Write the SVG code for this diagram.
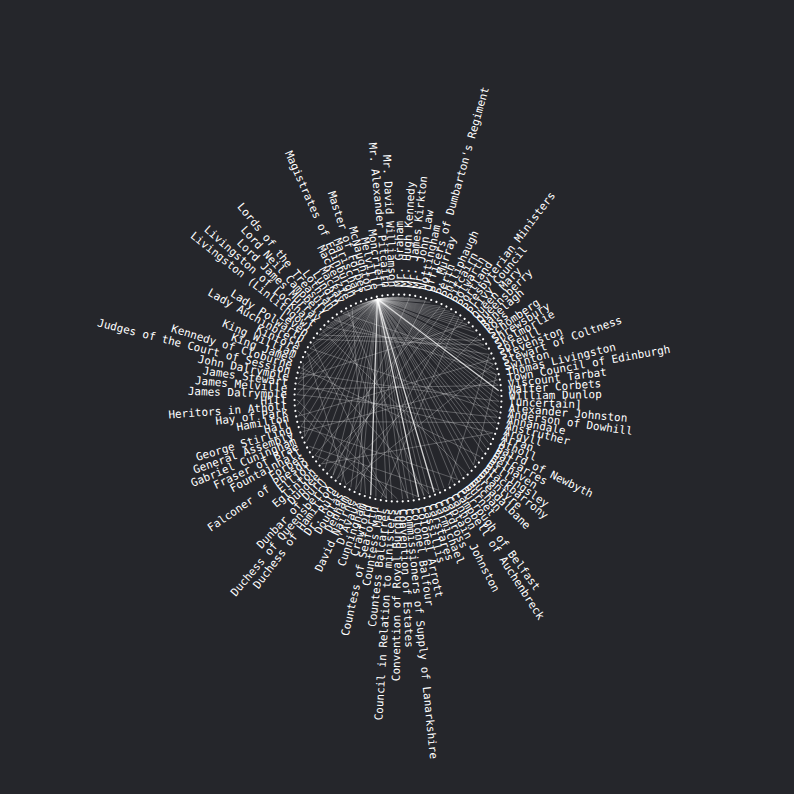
<svg xmlns="http://www.w3.org/2000/svg" width="794" height="794" viewBox="0 0 794 794">
<style>
text{font-family:"DejaVu Sans Mono","Liberation Mono",monospace;font-size:11px;fill:#ffffff}
.f text{text-anchor:end}
circle{fill:#ffffff}
#links line{stroke:#ffffff;stroke-opacity:.32;stroke-width:.8}
#links line.b{stroke-opacity:.8;stroke-width:1.3}
</style>
<rect width="794" height="794" fill="#25262b"/>
<g id="links">
<line x1="377.4" y1="299.1" x2="404.1" y2="297.2"/>
<line x1="377.4" y1="299.1" x2="409.5" y2="297.7"/>
<line x1="377.4" y1="299.1" x2="414.8" y2="298.4"/>
<line x1="377.4" y1="299.1" x2="420.1" y2="299.4"/>
<line x1="377.4" y1="299.1" x2="425.3" y2="300.8"/>
<line x1="377.4" y1="299.1" x2="430.4" y2="302.3"/>
<line x1="377.4" y1="299.1" x2="440.4" y2="306.3"/>
<line x1="377.4" y1="299.1" x2="445.2" y2="308.7"/>
<line x1="377.4" y1="299.1" x2="449.9" y2="311.4"/>
<line x1="377.4" y1="299.1" x2="454.5" y2="314.3"/>
<line x1="377.4" y1="299.1" x2="458.8" y2="317.4"/>
<line x1="377.4" y1="299.1" x2="463.0" y2="320.7"/>
<line x1="377.4" y1="299.1" x2="467.1" y2="324.3"/>
<line x1="377.4" y1="299.1" x2="470.9" y2="328.1"/>
<line x1="377.4" y1="299.1" x2="474.5" y2="332.1"/>
<line x1="377.4" y1="299.1" x2="481.1" y2="340.6"/>
<line x1="377.4" y1="299.1" x2="484.0" y2="345.1"/>
<line x1="377.4" y1="299.1" x2="486.7" y2="349.7"/>
<line x1="377.4" y1="299.1" x2="491.3" y2="359.4"/>
<line x1="377.4" y1="299.1" x2="493.3" y2="364.4"/>
<line x1="377.4" y1="299.1" x2="494.9" y2="369.6"/>
<line x1="377.4" y1="299.1" x2="496.3" y2="374.7"/>
<line x1="377.4" y1="299.1" x2="497.4" y2="380.0"/>
<line x1="377.4" y1="299.1" x2="498.2" y2="385.3"/>
<line class="b" x1="377.4" y1="299.1" x2="498.7" y2="390.7"/>
<line x1="377.4" y1="299.1" x2="499.0" y2="396.1"/>
<line x1="377.4" y1="299.1" x2="498.9" y2="401.4"/>
<line x1="377.4" y1="299.1" x2="498.6" y2="406.8"/>
<line x1="377.4" y1="299.1" x2="498.0" y2="412.1"/>
<line x1="377.4" y1="299.1" x2="497.1" y2="417.4"/>
<line x1="377.4" y1="299.1" x2="495.9" y2="422.7"/>
<line x1="377.4" y1="299.1" x2="494.5" y2="427.9"/>
<line x1="377.4" y1="299.1" x2="490.8" y2="437.9"/>
<line x1="377.4" y1="299.1" x2="488.5" y2="442.8"/>
<line x1="377.4" y1="299.1" x2="486.0" y2="447.6"/>
<line x1="377.4" y1="299.1" x2="483.2" y2="452.2"/>
<line x1="377.4" y1="299.1" x2="477.0" y2="461.0"/>
<line x1="377.4" y1="299.1" x2="473.5" y2="465.1"/>
<line x1="377.4" y1="299.1" x2="469.8" y2="469.0"/>
<line x1="377.4" y1="299.1" x2="461.9" y2="476.2"/>
<line x1="377.4" y1="299.1" x2="457.6" y2="479.5"/>
<line x1="377.4" y1="299.1" x2="453.2" y2="482.6"/>
<line x1="377.4" y1="299.1" x2="443.9" y2="488.0"/>
<line x1="377.4" y1="299.1" x2="439.0" y2="490.3"/>
<line class="b" x1="377.4" y1="299.1" x2="434.1" y2="492.3"/>
<line x1="377.4" y1="299.1" x2="429.0" y2="494.1"/>
<line x1="377.4" y1="299.1" x2="423.9" y2="495.6"/>
<line class="b" x1="377.4" y1="299.1" x2="418.6" y2="496.9"/>
<line x1="377.4" y1="299.1" x2="413.3" y2="497.8"/>
<line x1="377.4" y1="299.1" x2="408.0" y2="498.5"/>
<line x1="377.4" y1="299.1" x2="402.6" y2="498.9"/>
<line x1="377.4" y1="299.1" x2="391.9" y2="498.8"/>
<line x1="377.4" y1="299.1" x2="386.5" y2="498.3"/>
<line x1="377.4" y1="299.1" x2="375.9" y2="496.6"/>
<line class="b" x1="377.4" y1="299.1" x2="370.7" y2="495.2"/>
<line x1="377.4" y1="299.1" x2="360.5" y2="491.8"/>
<line x1="377.4" y1="299.1" x2="355.6" y2="489.7"/>
<line x1="377.4" y1="299.1" x2="350.8" y2="487.3"/>
<line x1="377.4" y1="299.1" x2="341.5" y2="481.7"/>
<line x1="377.4" y1="299.1" x2="333.0" y2="475.3"/>
<line x1="377.4" y1="299.1" x2="325.1" y2="467.9"/>
<line x1="377.4" y1="299.1" x2="318.1" y2="459.8"/>
<line x1="377.4" y1="299.1" x2="312.0" y2="450.9"/>
<line x1="377.4" y1="299.1" x2="306.8" y2="441.5"/>
<line x1="377.4" y1="299.1" x2="304.7" y2="436.6"/>
<line x1="377.4" y1="299.1" x2="301.1" y2="426.4"/>
<line x1="377.4" y1="299.1" x2="298.6" y2="416.0"/>
<line x1="377.4" y1="299.1" x2="297.3" y2="405.3"/>
<line x1="377.4" y1="299.1" x2="297.1" y2="394.6"/>
<line x1="377.4" y1="299.1" x2="298.0" y2="383.9"/>
<line x1="377.4" y1="299.1" x2="298.9" y2="378.6"/>
<line x1="377.4" y1="299.1" x2="300.1" y2="373.3"/>
<line x1="377.4" y1="299.1" x2="301.5" y2="368.1"/>
<line x1="377.4" y1="299.1" x2="305.2" y2="358.1"/>
<line x1="377.4" y1="299.1" x2="310.0" y2="348.4"/>
<line x1="377.4" y1="299.1" x2="312.8" y2="343.8"/>
<line x1="377.4" y1="299.1" x2="319.0" y2="335.0"/>
<line x1="377.4" y1="299.1" x2="322.5" y2="330.9"/>
<line x1="377.4" y1="299.1" x2="326.2" y2="327.0"/>
<line x1="377.4" y1="299.1" x2="330.0" y2="323.3"/>
<line x1="377.4" y1="299.1" x2="334.1" y2="319.8"/>
<line x1="377.4" y1="299.1" x2="342.8" y2="313.4"/>
<line x1="377.4" y1="299.1" x2="352.1" y2="308.0"/>
<line x1="377.4" y1="299.1" x2="357.0" y2="305.7"/>
<line x1="377.4" y1="299.1" x2="361.9" y2="303.7"/>
<line x1="377.4" y1="299.1" x2="367.0" y2="301.9"/>
<line x1="377.4" y1="299.1" x2="372.1" y2="300.4"/>
<line x1="377.4" y1="299.1" x2="382.7" y2="298.2"/>
<line x1="377.4" y1="299.1" x2="388.0" y2="297.5"/>
<line x1="377.4" y1="299.1" x2="393.4" y2="297.1"/>
<line x1="377.4" y1="299.1" x2="398.7" y2="297.0"/>
<line x1="326.2" y1="327.0" x2="489.2" y2="354.5"/>
<line x1="334.1" y1="319.8" x2="496.3" y2="374.7"/>
<line x1="319.0" y1="335.0" x2="481.1" y2="340.6"/>
<line x1="342.8" y1="313.4" x2="493.3" y2="364.4"/>
<line x1="297.1" y1="394.6" x2="497.1" y2="417.4"/>
<line x1="298.0" y1="383.9" x2="492.8" y2="433.0"/>
<line x1="300.1" y1="373.3" x2="498.9" y2="401.4"/>
<line x1="309.3" y1="446.3" x2="439.0" y2="490.3"/>
<line x1="301.1" y1="426.4" x2="457.6" y2="479.5"/>
<line x1="314.9" y1="455.4" x2="418.6" y2="496.9"/>
<line x1="337.2" y1="478.6" x2="477.9" y2="336.2"/>
<line x1="346.1" y1="484.6" x2="493.3" y2="364.4"/>
<line x1="321.5" y1="463.9" x2="463.0" y2="320.7"/>
<line x1="312.8" y1="343.8" x2="386.5" y2="498.3"/>
<line x1="338.4" y1="316.5" x2="408.0" y2="498.5"/>
<line x1="352.1" y1="308.0" x2="365.6" y2="493.7"/>
<line x1="307.5" y1="353.2" x2="346.1" y2="484.6"/>
<line x1="425.3" y1="300.8" x2="337.2" y2="478.6"/>
<line x1="440.4" y1="306.3" x2="314.9" y2="455.4"/>
<line x1="454.5" y1="314.3" x2="355.6" y2="489.7"/>
<line x1="297.8" y1="410.7" x2="386.5" y2="498.3"/>
<line x1="297.0" y1="399.9" x2="397.3" y2="499.0"/>
<line x1="489.2" y1="354.5" x2="448.6" y2="485.4"/>
<line x1="496.3" y1="374.7" x2="473.5" y2="465.1"/>
<line x1="304.7" y1="436.6" x2="303.2" y2="363.0"/>
<line x1="307.5" y1="353.2" x2="429.0" y2="494.1"/>
<line x1="492.8" y1="433.0" x2="321.5" y2="463.9"/>
<line x1="495.9" y1="422.7" x2="299.7" y2="421.3"/>
<line x1="498.2" y1="385.3" x2="297.4" y2="389.2"/>
<line x1="467.1" y1="324.3" x2="298.9" y2="378.6"/>
<line x1="484.0" y1="345.1" x2="315.8" y2="339.3"/>
<line x1="445.2" y1="308.7" x2="328.9" y2="471.7"/>
<line x1="322.5" y1="330.9" x2="466.0" y2="472.7"/>
<line x1="301.5" y1="368.1" x2="480.2" y2="456.7"/>
<line x1="347.4" y1="310.6" x2="423.9" y2="495.6"/>
<line x1="458.8" y1="317.4" x2="381.2" y2="497.6"/>
<line x1="409.5" y1="297.7" x2="333.0" y2="475.3"/>
<line x1="497.4" y1="380.0" x2="302.7" y2="431.6"/>
<line x1="491.3" y1="359.4" x2="298.6" y2="416.0"/>
<line x1="310.0" y1="348.4" x2="498.0" y2="412.1"/>
</g>
<g id="nodes" transform="translate(398,398)">
<g id="n0" transform="rotate(5)"><circle cx="103.5" r="1.1"/><text x="111" dy=".35em">Alexander Johnston</text></g>
<g id="n1" transform="rotate(8.05)"><circle cx="103.5" r="1.1"/><text x="111" dy=".35em">Anderson of Dowhill</text></g>
<g id="n2" transform="rotate(11.1)"><circle cx="103.5" r="1.1"/><text x="111" dy=".35em">Annandale</text></g>
<g id="n3" transform="rotate(14.15)"><circle cx="103.5" r="1.1"/><text x="111" dy=".35em">Anstruther</text></g>
<g id="n4" transform="rotate(17.2)"><circle cx="103.5" r="1.1"/><text x="111" dy=".35em">Argyll</text></g>
<g id="n5" transform="rotate(20.25)"><circle cx="103.5" r="1.1"/><text x="111" dy=".35em">Arran</text></g>
<g id="n6" transform="rotate(23.31)"><circle cx="103.5" r="1.1"/><text x="111" dy=".35em">Atholl</text></g>
<g id="n7" transform="rotate(26.36)"><circle cx="103.5" r="1.1"/><text x="111" dy=".35em">Baird of Newbyth</text></g>
<g id="n8" transform="rotate(29.41)"><circle cx="103.5" r="1.1"/><text x="111" dy=".35em">Balcarres</text></g>
<g id="n9" transform="rotate(32.46)"><circle cx="103.5" r="1.1"/><text x="111" dy=".35em">Belhaven</text></g>
<g id="n10" transform="rotate(35.51)"><circle cx="103.5" r="1.1"/><text x="111" dy=".35em">Billingsley</text></g>
<g id="n11" transform="rotate(38.56)"><circle cx="103.5" r="1.1"/><text x="111" dy=".35em">Blackbarrony</text></g>
<g id="n12" transform="rotate(41.61)"><circle cx="103.5" r="1.1"/><text x="111" dy=".35em">Blantyre</text></g>
<g id="n13" transform="rotate(44.66)"><circle cx="103.5" r="1.1"/><text x="111" dy=".35em">Breadalbane</text></g>
<g id="n14" transform="rotate(47.71)"><circle cx="103.5" r="1.1"/><text x="111" dy=".35em">Buchan</text></g>
<g id="n15" transform="rotate(50.76)"><circle cx="103.5" r="1.1"/><text x="111" dy=".35em">Burnet</text></g>
<g id="n16" transform="rotate(53.81)"><circle cx="103.5" r="1.1"/><text x="111" dy=".35em">Burrough of Belfast</text></g>
<g id="n17" transform="rotate(56.86)"><circle cx="103.5" r="1.1"/><text x="111" dy=".35em">Campbell of Auchenbreck</text></g>
<g id="n18" transform="rotate(59.92)"><circle cx="103.5" r="1.1"/><text x="111" dy=".35em">Cannon</text></g>
<g id="n19" transform="rotate(62.97)"><circle cx="103.5" r="1.1"/><text x="111" dy=".35em">Captain Johnston</text></g>
<g id="n20" transform="rotate(66.02)"><circle cx="103.5" r="1.1"/><text x="111" dy=".35em">Cardross</text></g>
<g id="n21" transform="rotate(69.07)"><circle cx="103.5" r="1.1"/><text x="111" dy=".35em">Carmichael</text></g>
<g id="n22" transform="rotate(72.12)"><circle cx="103.5" r="1.1"/><text x="111" dy=".35em">Carstares</text></g>
<g id="n23" transform="rotate(75.17)"><circle cx="103.5" r="1.1"/><text x="111" dy=".35em">Cassillis</text></g>
<g id="n24" transform="rotate(78.22)"><circle cx="103.5" r="1.1"/><text x="111" dy=".35em">Colonel Arrott</text></g>
<g id="n25" transform="rotate(81.27)"><circle cx="103.5" r="1.1"/><text x="111" dy=".35em">Colonel Balfour</text></g>
<g id="n26" transform="rotate(84.32)"><circle cx="103.5" r="1.1"/><text x="111" dy=".35em">Commissioners of Supply of Lanarkshire</text></g>
<g id="n27" transform="rotate(87.37)"><circle cx="103.5" r="1.1"/><text x="111" dy=".35em">Convention of Estates</text></g>
<g class="f">
<g id="n28" transform="rotate(90.42)"><circle cx="103.5" r="1.1"/><text transform="rotate(180)" x="-111" dy=".35em">Convention of Royal Burghs</text></g>
<g id="n29" transform="rotate(93.47)"><circle cx="103.5" r="1.1"/><text transform="rotate(180)" x="-111" dy=".35em">Council in Relation to ministers</text></g>
<g id="n30" transform="rotate(96.53)"><circle cx="103.5" r="1.1"/><text transform="rotate(180)" x="-111" dy=".35em">Countess Balcarres</text></g>
<g id="n31" transform="rotate(99.58)"><circle cx="103.5" r="1.1"/><text transform="rotate(180)" x="-111" dy=".35em">Countess Mar</text></g>
<g id="n32" transform="rotate(102.63)"><circle cx="103.5" r="1.1"/><text transform="rotate(180)" x="-111" dy=".35em">Countess of Seaforth</text></g>
<g id="n33" transform="rotate(105.68)"><circle cx="103.5" r="1.1"/><text transform="rotate(180)" x="-111" dy=".35em">Crawford</text></g>
<g id="n34" transform="rotate(108.73)"><circle cx="103.5" r="1.1"/><text transform="rotate(180)" x="-111" dy=".35em">Cunningham</text></g>
<g id="n35" transform="rotate(111.78)"><circle cx="103.5" r="1.1"/><text transform="rotate(180)" x="-111" dy=".35em">D'Avaux</text></g>
<g id="n36" transform="rotate(114.83)"><circle cx="103.5" r="1.1"/><text transform="rotate(180)" x="-111" dy=".35em">David Nairne</text></g>
<g id="n37" transform="rotate(117.88)"><circle cx="103.5" r="1.1"/><text transform="rotate(180)" x="-111" dy=".35em">Denham</text></g>
<g id="n38" transform="rotate(120.93)"><circle cx="103.5" r="1.1"/><text transform="rotate(180)" x="-111" dy=".35em">Douglas</text></g>
<g id="n39" transform="rotate(123.98)"><circle cx="103.5" r="1.1"/><text transform="rotate(180)" x="-111" dy=".35em">Dr. Rule</text></g>
<g id="n40" transform="rotate(127.03)"><circle cx="103.5" r="1.1"/><text transform="rotate(180)" x="-111" dy=".35em">Duchess of Hamilton</text></g>
<g id="n41" transform="rotate(130.08)"><circle cx="103.5" r="1.1"/><text transform="rotate(180)" x="-111" dy=".35em">Duchess of Queensberry</text></g>
<g id="n42" transform="rotate(133.14)"><circle cx="103.5" r="1.1"/><text transform="rotate(180)" x="-111" dy=".35em">Dunbar of Durn</text></g>
<g id="n43" transform="rotate(136.19)"><circle cx="103.5" r="1.1"/><text transform="rotate(180)" x="-111" dy=".35em">Dundee</text></g>
<g id="n44" transform="rotate(139.24)"><circle cx="103.5" r="1.1"/><text transform="rotate(180)" x="-111" dy=".35em">Eglinton</text></g>
<g id="n45" transform="rotate(142.29)"><circle cx="103.5" r="1.1"/><text transform="rotate(180)" x="-111" dy=".35em">Elliot</text></g>
<g id="n46" transform="rotate(145.34)"><circle cx="103.5" r="1.1"/><text transform="rotate(180)" x="-111" dy=".35em">Falconer of Phesdo</text></g>
<g id="n47" transform="rotate(148.39)"><circle cx="103.5" r="1.1"/><text transform="rotate(180)" x="-111" dy=".35em">Forbes</text></g>
<g id="n48" transform="rotate(151.44)"><circle cx="103.5" r="1.1"/><text transform="rotate(180)" x="-111" dy=".35em">Fountainhall</text></g>
<g id="n49" transform="rotate(154.49)"><circle cx="103.5" r="1.1"/><text transform="rotate(180)" x="-111" dy=".35em">Fraser of Brae</text></g>
<g id="n50" transform="rotate(157.54)"><circle cx="103.5" r="1.1"/><text transform="rotate(180)" x="-111" dy=".35em">Gabriel Cuningham</text></g>
<g id="n51" transform="rotate(160.59)"><circle cx="103.5" r="1.1"/><text transform="rotate(180)" x="-111" dy=".35em">General Assembly</text></g>
<g id="n52" transform="rotate(163.64)"><circle cx="103.5" r="1.1"/><text transform="rotate(180)" x="-111" dy=".35em">George Stirling</text></g>
<g id="n53" transform="rotate(166.69)"><circle cx="103.5" r="1.1"/><text transform="rotate(180)" x="-111" dy=".35em">Hall</text></g>
<g id="n54" transform="rotate(169.75)"><circle cx="103.5" r="1.1"/><text transform="rotate(180)" x="-111" dy=".35em">Hamilton</text></g>
<g id="n55" transform="rotate(172.8)"><circle cx="103.5" r="1.1"/><text transform="rotate(180)" x="-111" dy=".35em">Hay of Park</text></g>
<g id="n56" transform="rotate(175.85)"><circle cx="103.5" r="1.1"/><text transform="rotate(180)" x="-111" dy=".35em">Heritors in Atholl</text></g>
<g id="n57" transform="rotate(178.9)"><circle cx="103.5" r="1.1"/><text transform="rotate(180)" x="-111" dy=".35em">Hill</text></g>
<g id="n58" transform="rotate(181.95)"><circle cx="103.5" r="1.1"/><text transform="rotate(180)" x="-111" dy=".35em">James Dalrymple</text></g>
<g id="n59" transform="rotate(185)"><circle cx="103.5" r="1.1"/><text transform="rotate(180)" x="-111" dy=".35em">James Melville</text></g>
<g id="n60" transform="rotate(188.05)"><circle cx="103.5" r="1.1"/><text transform="rotate(180)" x="-111" dy=".35em">James Stewart</text></g>
<g id="n61" transform="rotate(191.1)"><circle cx="103.5" r="1.1"/><text transform="rotate(180)" x="-111" dy=".35em">John Dalrymple</text></g>
<g id="n62" transform="rotate(194.15)"><circle cx="103.5" r="1.1"/><text transform="rotate(180)" x="-111" dy=".35em">Judges of the Court of Session</text></g>
<g id="n63" transform="rotate(197.2)"><circle cx="103.5" r="1.1"/><text transform="rotate(180)" x="-111" dy=".35em">Kennedy of Cloburne</text></g>
<g id="n64" transform="rotate(200.25)"><circle cx="103.5" r="1.1"/><text transform="rotate(180)" x="-111" dy=".35em">King James</text></g>
<g id="n65" transform="rotate(203.31)"><circle cx="103.5" r="1.1"/><text transform="rotate(180)" x="-111" dy=".35em">King William</text></g>
<g id="n66" transform="rotate(206.36)"><circle cx="103.5" r="1.1"/><text transform="rotate(180)" x="-111" dy=".35em">Kintore</text></g>
<g id="n67" transform="rotate(209.41)"><circle cx="103.5" r="1.1"/><text transform="rotate(180)" x="-111" dy=".35em">Lady Auchinbreck</text></g>
<g id="n68" transform="rotate(212.46)"><circle cx="103.5" r="1.1"/><text transform="rotate(180)" x="-111" dy=".35em">Lady Polwarth</text></g>
<g id="n69" transform="rotate(215.51)"><circle cx="103.5" r="1.1"/><text transform="rotate(180)" x="-111" dy=".35em">Leven</text></g>
<g id="n70" transform="rotate(218.56)"><circle cx="103.5" r="1.1"/><text transform="rotate(180)" x="-111" dy=".35em">Livingston (Linlithgow)</text></g>
<g id="n71" transform="rotate(221.61)"><circle cx="103.5" r="1.1"/><text transform="rotate(180)" x="-111" dy=".35em">Livingston of Lockhart</text></g>
<g id="n72" transform="rotate(224.66)"><circle cx="103.5" r="1.1"/><text transform="rotate(180)" x="-111" dy=".35em">Lord James Murray</text></g>
<g id="n73" transform="rotate(227.71)"><circle cx="103.5" r="1.1"/><text transform="rotate(180)" x="-111" dy=".35em">Lord Neil Campbell</text></g>
<g id="n74" transform="rotate(230.76)"><circle cx="103.5" r="1.1"/><text transform="rotate(180)" x="-111" dy=".35em">Lords of the Treasury</text></g>
<g id="n75" transform="rotate(233.81)"><circle cx="103.5" r="1.1"/><text transform="rotate(180)" x="-111" dy=".35em">Lothian</text></g>
<g id="n76" transform="rotate(236.86)"><circle cx="103.5" r="1.1"/><text transform="rotate(180)" x="-111" dy=".35em">Lundin</text></g>
<g id="n77" transform="rotate(239.92)"><circle cx="103.5" r="1.1"/><text transform="rotate(180)" x="-111" dy=".35em">Mackay</text></g>
<g id="n78" transform="rotate(242.97)"><circle cx="103.5" r="1.1"/><text transform="rotate(180)" x="-111" dy=".35em">Mackenzie</text></g>
<g id="n79" transform="rotate(246.02)"><circle cx="103.5" r="1.1"/><text transform="rotate(180)" x="-111" dy=".35em">Magistrates of Edinburgh</text></g>
<g id="n80" transform="rotate(249.07)"><circle cx="103.5" r="1.1"/><text transform="rotate(180)" x="-111" dy=".35em">Marischal</text></g>
<g id="n81" transform="rotate(252.12)"><circle cx="103.5" r="1.1"/><text transform="rotate(180)" x="-111" dy=".35em">Master of Forbes</text></g>
<g id="n82" transform="rotate(255.17)"><circle cx="103.5" r="1.1"/><text transform="rotate(180)" x="-111" dy=".35em">McNaughton</text></g>
<g id="n83" transform="rotate(258.22)"><circle cx="103.5" r="1.1"/><text transform="rotate(180)" x="-111" dy=".35em">Melville</text></g>
<g id="n84" transform="rotate(261.27)"><circle cx="103.5" r="1.1"/><text transform="rotate(180)" x="-111" dy=".35em">Moncrieff</text></g>
<g id="n85" transform="rotate(264.32)"><circle cx="103.5" r="1.1"/><text transform="rotate(180)" x="-111" dy=".35em">Mr. Alexander Pitcairn</text></g>
<g id="n86" transform="rotate(267.37)"><circle cx="103.5" r="1.1"/><text transform="rotate(180)" x="-111" dy=".35em">Mr. David Williamson</text></g>
</g>
<g id="n87" transform="rotate(270.42)"><circle cx="103.5" r="1.1"/><text x="111" dy=".35em">Mr. Graham</text></g>
<g id="n88" transform="rotate(273.47)"><circle cx="103.5" r="1.1"/><text x="111" dy=".35em">Mr. Hugh Kennedy</text></g>
<g id="n89" transform="rotate(276.53)"><circle cx="103.5" r="1.1"/><text x="111" dy=".35em">Mr. James Kirkton</text></g>
<g id="n90" transform="rotate(279.58)"><circle cx="103.5" r="1.1"/><text x="111" dy=".35em">Mr. John Law</text></g>
<g id="n91" transform="rotate(282.63)"><circle cx="103.5" r="1.1"/><text x="111" dy=".35em">Nottingham</text></g>
<g id="n92" transform="rotate(285.68)"><circle cx="103.5" r="1.1"/><text x="111" dy=".35em">Officers of Dumbarton's Regiment</text></g>
<g id="n93" transform="rotate(288.73)"><circle cx="103.5" r="1.1"/><text x="111" dy=".35em">P. Murray</text></g>
<g id="n94" transform="rotate(291.78)"><circle cx="103.5" r="1.1"/><text x="111" dy=".35em">Perth</text></g>
<g id="n95" transform="rotate(294.83)"><circle cx="103.5" r="1.1"/><text x="111" dy=".35em">Philiphaugh</text></g>
<g id="n96" transform="rotate(297.88)"><circle cx="103.5" r="1.1"/><text x="111" dy=".35em">Pitcairn</text></g>
<g id="n97" transform="rotate(300.93)"><circle cx="103.5" r="1.1"/><text x="111" dy=".35em">Polwarth</text></g>
<g id="n98" transform="rotate(303.98)"><circle cx="103.5" r="1.1"/><text x="111" dy=".35em">Portland</text></g>
<g id="n99" transform="rotate(307.03)"><circle cx="103.5" r="1.1"/><text x="111" dy=".35em">Presbyterian Ministers</text></g>
<g id="n100" transform="rotate(310.08)"><circle cx="103.5" r="1.1"/><text x="111" dy=".35em">Privy Council</text></g>
<g id="n101" transform="rotate(313.14)"><circle cx="103.5" r="1.1"/><text x="111" dy=".35em">Queen Mary</text></g>
<g id="n102" transform="rotate(316.19)"><circle cx="103.5" r="1.1"/><text x="111" dy=".35em">Queensberry</text></g>
<g id="n103" transform="rotate(319.24)"><circle cx="103.5" r="1.1"/><text x="111" dy=".35em">Ranelagh</text></g>
<g id="n104" transform="rotate(322.29)"><circle cx="103.5" r="1.1"/><text x="111" dy=".35em">Ross</text></g>
<g id="n105" transform="rotate(325.34)"><circle cx="103.5" r="1.1"/><text x="111" dy=".35em">Schomberg</text></g>
<g id="n106" transform="rotate(328.39)"><circle cx="103.5" r="1.1"/><text x="111" dy=".35em">Shrewsbury</text></g>
<g id="n107" transform="rotate(331.44)"><circle cx="103.5" r="1.1"/><text x="111" dy=".35em">Skelmorlie</text></g>
<g id="n108" transform="rotate(334.49)"><circle cx="103.5" r="1.1"/><text x="111" dy=".35em">Spreull</text></g>
<g id="n109" transform="rotate(337.54)"><circle cx="103.5" r="1.1"/><text x="111" dy=".35em">Stevenston</text></g>
<g id="n110" transform="rotate(340.59)"><circle cx="103.5" r="1.1"/><text x="111" dy=".35em">Stewart of Coltness</text></g>
<g id="n111" transform="rotate(343.64)"><circle cx="103.5" r="1.1"/><text x="111" dy=".35em">Swinton</text></g>
<g id="n112" transform="rotate(346.69)"><circle cx="103.5" r="1.1"/><text x="111" dy=".35em">Thomas Livingston</text></g>
<g id="n113" transform="rotate(349.75)"><circle cx="103.5" r="1.1"/><text x="111" dy=".35em">Town Council of Edinburgh</text></g>
<g id="n114" transform="rotate(352.8)"><circle cx="103.5" r="1.1"/><text x="111" dy=".35em">Viscount Tarbat</text></g>
<g id="n115" transform="rotate(355.85)"><circle cx="103.5" r="1.1"/><text x="111" dy=".35em">Walter Corbets</text></g>
<g id="n116" transform="rotate(358.9)"><circle cx="103.5" r="1.1"/><text x="111" dy=".35em">William Dunlop</text></g>
<g id="n117" transform="rotate(1.95)"><circle cx="103.5" r="1.1"/><text x="111" dy=".35em">[uncertain]</text></g>
</g>
</svg>
